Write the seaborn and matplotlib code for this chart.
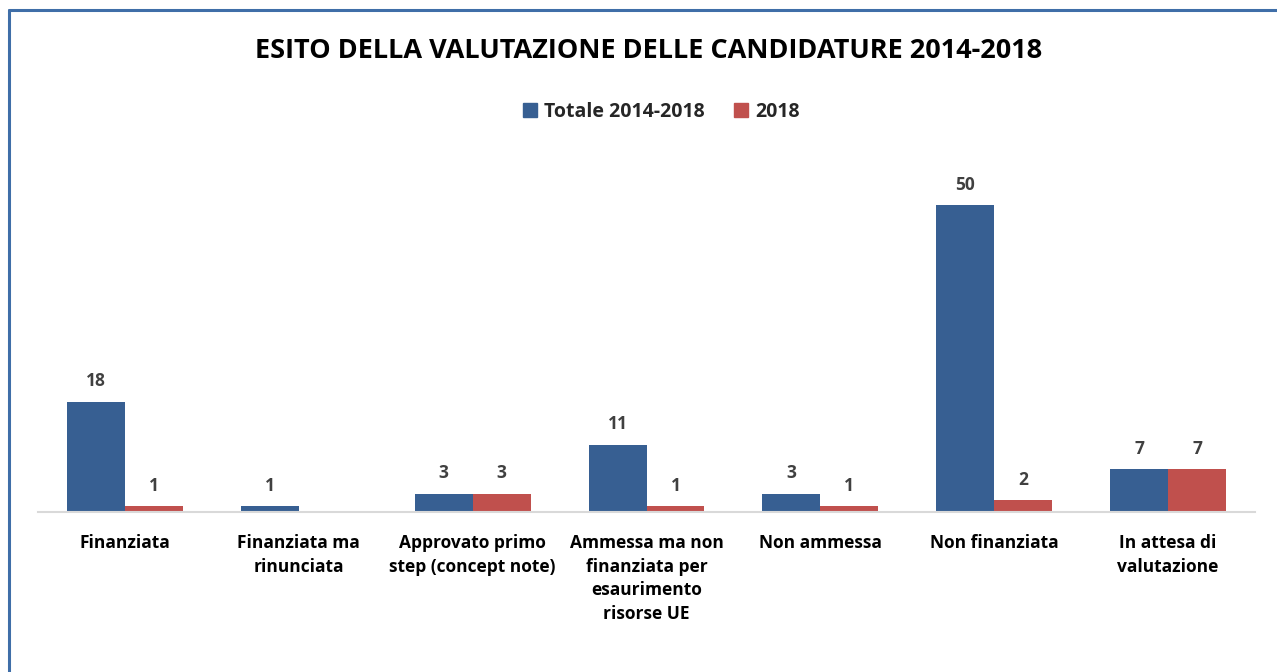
import numpy as np
import pandas as pd
import matplotlib
matplotlib.use("Agg")
import matplotlib.pyplot as plt
from matplotlib.lines import Line2D
import seaborn as sns

# data
categories = [
    "Finanziata",
    "Finanziata ma\nrinunciata",
    "Approvato primo\nstep (concept note)",
    "Ammessa ma non\nfinanziata per\nesaurimento\nrisorse UE",
    "Non ammessa",
    "Non finanziata",
    "In attesa di\nvalutazione",
]
totale = [18, 1, 3, 11, 3, 50, 7]
anno_2018 = [1, None, 3, 1, 1, 2, 7]
series_names = ["Totale 2014-2018", "2018"]

df = pd.DataFrame({
    "categoria": categories * 2,
    "serie": [series_names[0]] * len(categories) + [series_names[1]] * len(categories),
    "valore": [np.nan if v is None else v for v in totale + anno_2018],
})

sns.set_style("white")
plt.rcParams["font.family"] = ["Open Sans", "DejaVu Sans"]

colors = ["#375F92", "#C0504D"]

fig = plt.figure(figsize=(12.77, 6.72), dpi=100)
ax = fig.add_axes([38 / 1277, 1 - 512 / 672, (1255 - 38) / 1277, (512 - 144) / 672])

sns.barplot(data=df, x="categoria", y="valore", hue="serie", order=categories,
            hue_order=series_names, palette=colors, saturation=1,
            width=0.667, ax=ax, legend=False, linewidth=0)

for cont in ax.containers:
    ax.bar_label(cont, fmt="{:.0f}", padding=8, fontsize=12.5,
                 fontweight="bold", color="#404040")

ax.set_ylim(0, 60)
ax.set_xlim(-0.5, len(categories) - 0.5)
ax.set_xlabel("")
ax.set_ylabel("")
ax.set_yticks([])
for s in ["top", "right", "left"]:
    ax.spines[s].set_visible(False)
ax.spines["bottom"].set_color("#D9D9D9")
ax.spines["bottom"].set_linewidth(1.5)
ax.tick_params(axis="x", length=0, pad=16)
for lbl in ax.get_xticklabels():
    lbl.set_fontsize(12.5)
    lbl.set_fontweight("bold")
    lbl.set_color("#000000")
    lbl.set_linespacing(1.4)
    lbl.set_verticalalignment("top")

fig.text(0.508, 1 - 51 / 672, "ESITO DELLA VALUTAZIONE DELLE CANDIDATURE 2014-2018",
         ha="center", va="center", fontsize=19.5, fontweight="bold", color="#000000")

handles = [plt.Rectangle((0, 0), 1, 1, color=c) for c in colors]
fig.legend(handles, series_names, loc="center", bbox_to_anchor=(0.518, 1 - 112 / 672),
           ncol=2, frameon=False, prop={"weight": "bold", "size": 14},
           handlelength=0.7, handleheight=0.7, handletextpad=0.4, columnspacing=1.5)

# chart-area border (left and top edges visible)
bc = "#3F6EA8"
fig.add_artist(Line2D([9 / 1277, 9 / 1277], [0, 1 - 10 / 672], color=bc, lw=2.2,
                      transform=fig.transFigure))
fig.add_artist(Line2D([9 / 1277, 1], [1 - 10 / 672, 1 - 10 / 672], color=bc, lw=2.2,
                      transform=fig.transFigure))

fig.savefig("out.png", dpi=100)
